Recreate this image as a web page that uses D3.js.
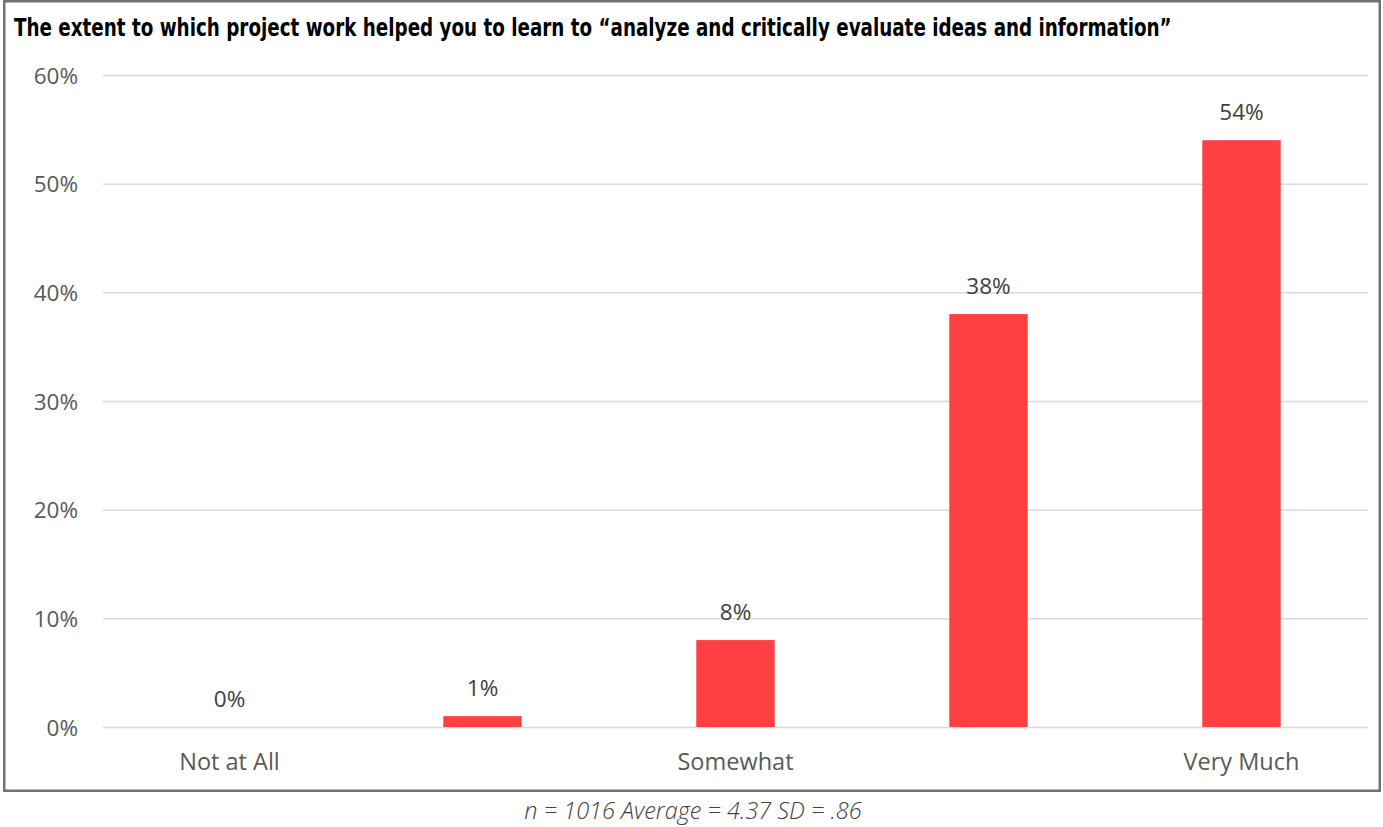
<!DOCTYPE html>
<html><head><meta charset="utf-8">
<script src="https://cdn.jsdelivr.net/npm/d3@7"></script>
<style>body{margin:0;background:#fff;} svg{display:block;}</style>
</head><body>
<svg id="c" width="1383" height="827"></svg>
<script>
const categories = ["c1","c2","c3","c4","c5"];
const categoryLabels = ["Not at All","","Somewhat","","Very Much"];
const values = [0, 1, 8, 38, 54];
const yTicks = [0,10,20,30,40,50,60];
const title = "The extent to which project work helped you to learn to \u201canalyze and critically evaluate ideas and information\u201d";
const footnote = "n = 1016 Average = 4.37 SD = .86";

const svg = d3.select("#c");
const mLeft = 103, mRight = 1368, mTop = 75, mBottom = 727;
const x = d3.scaleBand().domain(categories).range([mLeft, mRight]).paddingInner(0.69).paddingOuter(0.345);
const y = d3.scaleLinear().domain([0,60]).range([mBottom, mTop]);

svg.append("rect").attr("x",4.25).attr("y",1.25).attr("width",1375.5).attr("height",789.5)
  .attr("fill","none").attr("stroke","#767171").attr("stroke-width",2.5);

const tt = svg.append("text").attr("x",0).attr("y",0).text(title)
  .attr("font-family","'DejaVu Sans Condensed','Liberation Sans Narrow',sans-serif")
  .attr("font-weight","bold").attr("font-size",25).attr("fill","#000");
const natural = tt.node().getComputedTextLength();
tt.attr("transform",`translate(14,36) scale(${1158/natural},1)`);

const yAxis = d3.axisLeft(y).tickValues(yTicks).tickSize(-(mRight-mLeft)).tickFormat(d=>d+"%");
const ga = svg.append("g").attr("transform",`translate(${mLeft},0)`).call(yAxis);
ga.select(".domain").remove();
ga.selectAll(".tick line").attr("stroke","#d9d9d9").attr("stroke-width",1.5);
ga.selectAll(".tick text").attr("x",-25).attr("dy","0.36em")
  .attr("font-family","'Open Sans',sans-serif").attr("font-size",22.5).attr("fill","#595959");

svg.selectAll(".bar").data(values).join("rect").attr("class","bar")
  .attr("x",(d,i)=>x(categories[i])).attr("width",x.bandwidth())
  .attr("y",d=>y(d)).attr("height",d=>y(0)-y(d)).attr("fill","#ff4043");

svg.selectAll(".lbl").data(values).join("text").attr("class","lbl")
  .attr("x",(d,i)=>x(categories[i])+x.bandwidth()/2).attr("y",d=>y(d)-20)
  .attr("text-anchor","middle").text(d=>d+"%")
  .attr("font-family","'Open Sans',sans-serif").attr("font-size",22.5).attr("fill","#404040");

const xAxis = d3.axisBottom(x).tickSize(0).tickFormat((d,i)=>categoryLabels[i]);
const gx = svg.append("g").attr("transform",`translate(0,${mBottom})`).call(xAxis);
gx.select(".domain").remove();
gx.selectAll(".tick text").attr("y",26).attr("dy","0.71em")
  .attr("font-family","'Open Sans',sans-serif").attr("font-size",23.5).attr("fill","#595959");

svg.append("text").attr("x",693).attr("y",819).attr("text-anchor","middle").text(footnote)
  .attr("font-family","'Open Sans',sans-serif").attr("font-style","italic").attr("font-size",23.5).attr("font-weight",300).attr("fill","#404040");
</script>
</body></html>
